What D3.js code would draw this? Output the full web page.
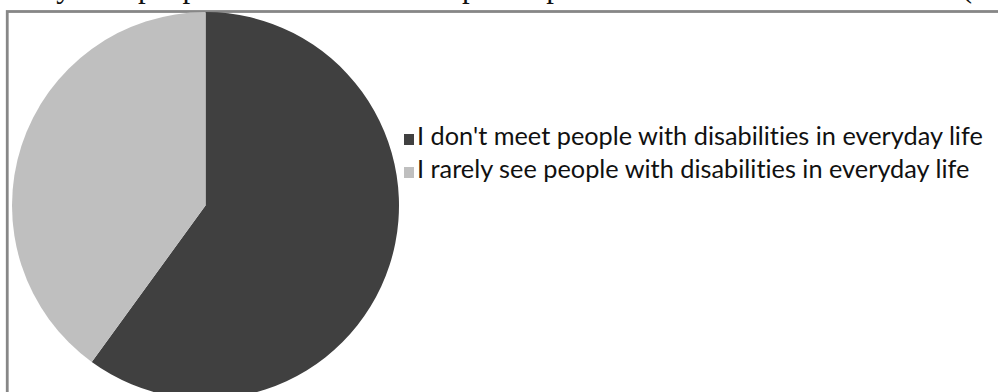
<!DOCTYPE html>
<html>
<head>
<meta charset="utf-8">
<script src="https://cdn.jsdelivr.net/npm/d3@7"></script>
<style>
  html, body { margin: 0; padding: 0; background: #fff; }
  svg { display: block; }
  text { font-variant-ligatures: none; }
</style>
</head>
<body>
<div id="chart"></div>
<script>
const categories = [
    "I don't meet people with disabilities in everyday life",
    "I rarely see people with disabilities in everyday life",
];
const values = [60, 40];
const colors = ["#404040", "#bfbfbf"];
const captionText = "rarely sees people with disabilities in public places or doesn't meet them at all (Table";

const width = 998,
    height = 392;

const svg = d3
    .select("#chart")
    .append("svg")
    .attr("width", width)
    .attr("height", height);

// caption from the page above, cut off at the top
svg.append("text")
    .attr("x", 0)
    .attr("y", -3)
    .attr("font-family", "Liberation Serif, Times New Roman, serif")
    .attr("font-size", 31)
    .attr("fill", "#111")
    .attr("textLength", 1040)
    .attr("lengthAdjust", "spacing")
    .text(captionText);

// chart frame (runs past the right and bottom edges)
svg.append("rect")
    .attr("x", 7.25)
    .attr("y", 11.5)
    .attr("width", 1100)
    .attr("height", 500)
    .attr("fill", "#fff")
    .attr("stroke", "#878787")
    .attr("stroke-width", 2.8);

const radius = 193.5;
const cx = 205.5,
    cy = 205.5;

const data = categories.map((c, i) => ({ category: c, value: values[i] }));

const color = d3.scaleOrdinal().domain(categories).range(colors);

const pie = d3.pie().sort(null).value((d) => d.value);
const arc = d3.arc().innerRadius(0).outerRadius(radius);

const g = svg.append("g").attr("transform", `translate(${cx},${cy})`);

g.selectAll("path")
    .data(pie(data))
    .enter()
    .append("path")
    .attr("d", arc)
    .attr("fill", (d) => color(d.data.category));

// Legend
const legend = svg.append("g").attr("transform", "translate(404,134)");
const rowH = 33;

const items = legend
    .selectAll("g")
    .data(data)
    .enter()
    .append("g")
    .attr("transform", (d, i) => `translate(0,${i * rowH})`);

items.append("rect")
    .attr("width", 10)
    .attr("height", 11)
    .attr("fill", (d) => color(d.category));

const labels = items
    .append("text")
    .attr("x", 13)
    .attr("y", 11)
    .attr("font-family", "Lato, Open Sans, sans-serif")
    .attr("font-size", 20)
    .attr("fill", "#111")
    .text((d) => d.category);

// size the legend font so the first line spans like the original
const w0 = labels.node().getComputedTextLength();
const fs = 20 * 566 / w0;
labels.attr("font-size", fs);
</script>
</body>
</html>
